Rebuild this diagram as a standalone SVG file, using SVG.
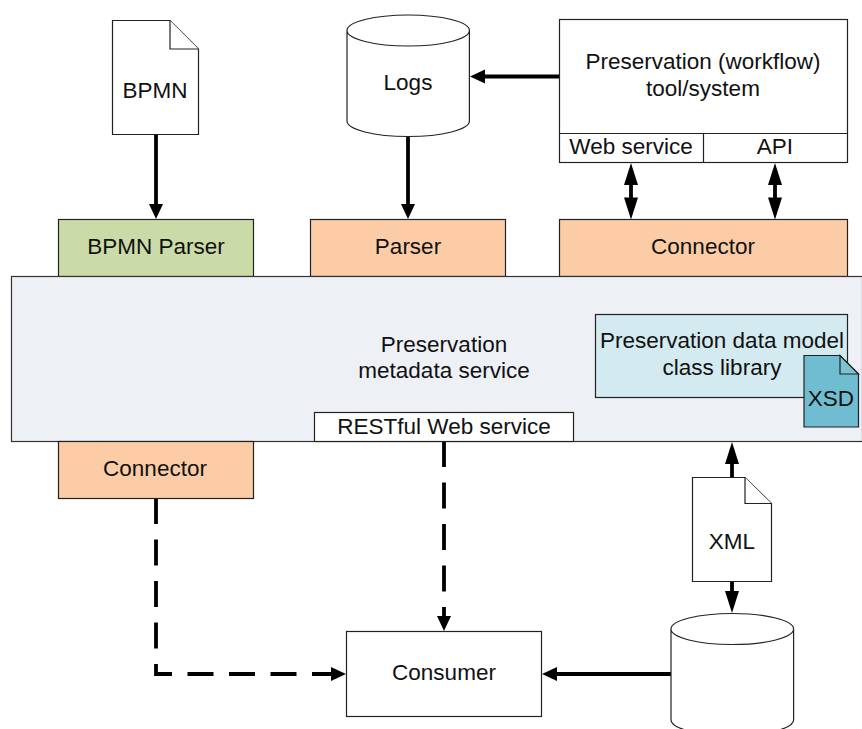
<svg xmlns="http://www.w3.org/2000/svg" width="862" height="729" viewBox="0 0 862 729">
<style>
text{font-family:"Liberation Sans",Arial,sans-serif;font-size:22.5px;fill:#111;text-anchor:middle}
.b{stroke:#222;stroke-width:1.2}
.w{fill:#fff}
.o{fill:#fbcca6}
.c{fill:none;stroke:#000;stroke-width:3.8}
.d{stroke-dasharray:26 15.5}
.h{fill:#000;stroke:none}
</style>
<defs>
<marker id="a" markerUnits="userSpaceOnUse" markerWidth="15" markerHeight="14" refX="1" refY="7" orient="auto-start-reverse" viewBox="0 0 15 14" overflow="visible"><path d="M0 0L15 7L0 14Z" class="h"/></marker>
<marker id="l" markerUnits="userSpaceOnUse" markerWidth="22" markerHeight="14" refX="1" refY="7" orient="auto-start-reverse" viewBox="0 0 22 14" overflow="visible"><path d="M0 0L22 7L0 14Z" class="h"/></marker>
</defs>
<rect width="862" height="729" fill="#fff"/>
<g id="connectors" class="conn">
<path class="c" d="M156 134V205" marker-end="url(#a)"/>
<path class="c" d="M408 136V205" marker-end="url(#a)"/>
<path class="c" d="M560 76.500H484" marker-end="url(#a)"/>
<path class="c" d="M631 184V198.500" marker-start="url(#l)" marker-end="url(#l)"/>
<path class="c" d="M775 184V198.500" marker-start="url(#l)" marker-end="url(#l)"/>
<path class="c" d="M732 478V463" marker-end="url(#l)"/>
<path class="c" d="M732 582V592" marker-end="url(#l)"/>
<path class="c" d="M671 674H556" marker-end="url(#a)"/>
<path class="c d" d="M444 441V617" marker-end="url(#a)"/>
<path class="c d" d="M156 498V674H332" marker-end="url(#a)"/>
</g>
<g id="bpmn-doc"><path class="b w" d="M112.500 20.500H170L198.500 49V134.500H112.500Z"/><path class="b w" d="M170 20.500V49H198.500"/><text x="155" y="98">BPMN</text></g>
<g id="logs"><path class="b w" d="M347 30.500V121A61.200 15.500 0 0 0 469.400 121V30.500A61.200 15.500 0 0 0 347 30.500A61.200 15.500 0 0 0 469.400 30.500"/><text x="408" y="90">Logs</text></g>
<g id="tool"><rect class="b w" x="559.500" y="19.500" width="288" height="143"/><path class="b" d="M559.500 133.500H847.500M703.500 133.500V162.500" fill="none"/><text x="703" y="69">Preservation (workflow)</text><text x="703" y="96">tool/system</text><text x="631" y="154">Web service</text><text x="775" y="154">API</text></g>
<g id="bpmn-parser"><rect class="b" fill="#cbdba8" x="58.500" y="219.500" width="195" height="57"/><text x="156" y="254">BPMN Parser</text></g>
<g id="parser"><rect class="b o" x="310.500" y="219.500" width="195" height="57"/><text x="408" y="254">Parser</text></g>
<g id="connector-top"><rect class="b o" x="559.500" y="219.500" width="288" height="57"/><text x="703" y="254">Connector</text></g>
<g id="service"><rect x="11.500" y="276.500" width="851" height="165" fill="#edf0f5" stroke="#333" stroke-width="1.200"/><text x="444" y="352">Preservation</text><text x="444" y="378">metadata service</text></g>
<g id="library"><rect class="b" fill="#d2eaf0" x="595.500" y="314.500" width="252" height="83"/><text x="722" y="348">Preservation data model</text><text x="722" y="375">class library</text></g>
<g id="xsd"><path class="b" fill="#70bdd2" d="M804 355.500H840L858.500 374V427H804Z"/><path class="b" fill="#7cc2d5" d="M840 355.500V374H858.500Z"/><text x="831" y="406">XSD</text></g>
<g id="rest"><rect class="b w" x="314.500" y="412.500" width="259" height="29"/><text x="444" y="434">RESTful Web service</text></g>
<g id="connector-bottom"><rect class="b o" x="58.500" y="441.500" width="195" height="57"/><text x="155" y="476">Connector</text></g>
<g id="xml"><path class="b w" d="M692.500 477.500H745L771.500 503.500V581.500H692.500Z"/><path class="b w" d="M745 477.500V503.500H771.500"/><text x="732" y="549">XML</text></g>
<g id="consumer"><rect class="b w" x="346.500" y="631.500" width="195" height="85"/><text x="444" y="680">Consumer</text></g>
<g id="database"><path class="b w" d="M671 629V720A61.300 15.500 0 0 0 793.600 720V629A61.300 15.500 0 0 0 671 629A61.300 15.500 0 0 0 793.600 629"/></g>
</svg>
